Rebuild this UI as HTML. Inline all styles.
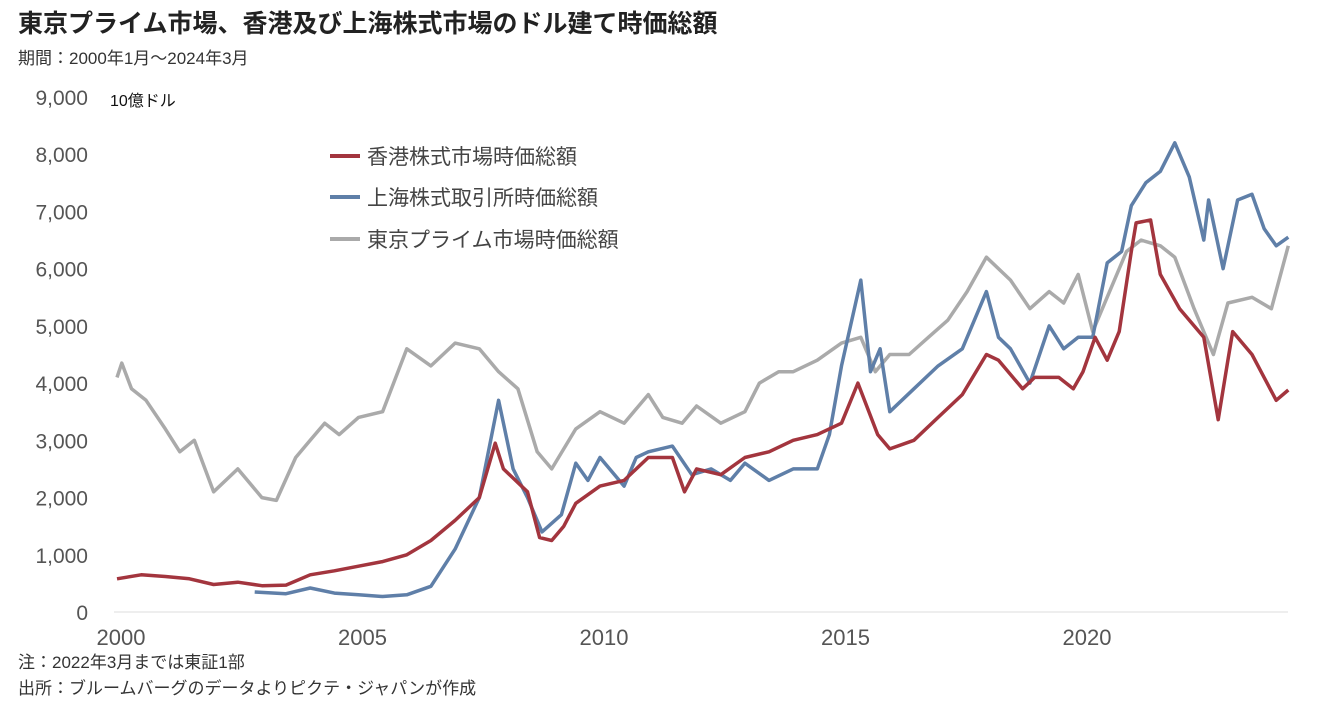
<!DOCTYPE html>
<html><head><meta charset="utf-8"><style>
body{margin:0;width:1318px;height:703px;background:#fff;overflow:hidden;font-family:"Liberation Sans","Noto Sans CJK JP",sans-serif}
</style></head><body>
<svg width="1318" height="703" style="font-family:'Liberation Sans','Noto Sans CJK JP',sans-serif">
<text x="18" y="32" font-size="25" font-weight="bold" fill="#222">東京プライム市場、香港及び上海株式市場のドル建て時価総額</text>
<text x="18" y="64" font-size="17" fill="#333">期間：2000年1月～2024年3月</text>
<text x="110" y="106" font-size="16" fill="#111">10億ドル</text>
<line x1="114" y1="612" x2="1288" y2="612" stroke="#ddd" stroke-width="1"/>
<g id="yt"></g><g id="xt"></g><g id="lines"></g>
<g>
<line x1="330" y1="156" x2="360" y2="156" stroke="#a3353e" stroke-width="4"/>
<text x="367" y="164" font-size="21" fill="#444">香港株式市場時価総額</text>
<line x1="330" y1="197" x2="360" y2="197" stroke="#5f7fa8" stroke-width="4"/>
<text x="367" y="205" font-size="21" fill="#444">上海株式取引所時価総額</text>
<line x1="330" y1="239" x2="360" y2="239" stroke="#aaa" stroke-width="4"/>
<text x="367" y="247" font-size="21" fill="#444">東京プライム市場時価総額</text>
</g>
<text x="18" y="668" font-size="17" fill="#333">注：2022年3月までは東証1部</text>
<text x="18" y="694" font-size="17" fill="#333">出所：ブルームバーグのデータよりピクテ・ジャパンが作成</text>
</svg>
<script>
const yTicks=[0,1000,2000,3000,4000,5000,6000,7000,8000,9000];
const xTicks=[2000,2005,2010,2015,2020];
const hkT=[2000,2000.5,2001,2001.5,2002,2002.5,2003,2003.5,2004,2004.5,2005,2005.5,2006,2006.5,2007,2007.5,2007.83,2008,2008.25,2008.5,2008.75,2009,2009.25,2009.5,2010,2010.5,2011,2011.5,2011.75,2012,2012.5,2013,2013.5,2014,2014.5,2015,2015.34,2015.75,2016,2016.5,2017,2017.5,2018,2018.25,2018.75,2019,2019.5,2019.8,2020,2020.25,2020.5,2020.75,2021,2021.1,2021.4,2021.6,2022,2022.5,2022.8,2023,2023.1,2023.5,2023.75,2024,2024.25];
const hkV=[580,650,620,580,480,520,460,470,650,720,800,880,1000,1250,1600,2000,2950,2500,2300,2100,1300,1250,1500,1900,2200,2300,2700,2700,2100,2500,2400,2700,2800,3000,3100,3300,4000,3100,2850,3000,3400,3800,4500,4400,3900,4100,4100,3900,4200,4800,4400,4900,6300,6800,6850,5900,5300,4800,3360,4400,4900,4500,4100,3700,3880];
const shT=[2002.85,2003.5,2004,2004.5,2005,2005.5,2006,2006.5,2007,2007.5,2007.9,2008.2,2008.5,2008.8,2009.2,2009.5,2009.75,2010,2010.5,2010.75,2011,2011.5,2011.9,2012.3,2012.7,2013,2013.5,2014,2014.5,2014.75,2015,2015.4,2015.6,2015.8,2016,2016.5,2017,2017.5,2018,2018.25,2018.5,2018.9,2019.3,2019.6,2019.9,2020.2,2020.5,2020.8,2021,2021.3,2021.6,2021.9,2022.2,2022.5,2022.6,2022.9,2023.2,2023.5,2023.75,2024,2024.25];
const shV=[350,320,420,330,300,270,300,450,1100,2000,3700,2500,2000,1400,1700,2600,2300,2700,2200,2700,2800,2900,2400,2500,2300,2600,2300,2500,2500,3100,4300,5800,4200,4600,3500,3900,4300,4600,5600,4800,4600,4000,5000,4600,4800,4800,6100,6300,7100,7500,7700,8200,7600,6500,7200,6000,7200,7300,6700,6400,6550];
const tkT=[2000,2000.1,2000.3,2000.6,2001,2001.3,2001.6,2002,2002.5,2003,2003.3,2003.7,2004,2004.3,2004.6,2005,2005.5,2006,2006.5,2007,2007.5,2007.9,2008.3,2008.7,2009,2009.5,2010,2010.5,2011,2011.3,2011.7,2012,2012.5,2013,2013.3,2013.7,2014,2014.5,2015,2015.4,2015.7,2016,2016.4,2016.8,2017.2,2017.6,2018,2018.5,2018.9,2019.3,2019.6,2019.9,2020.2,2020.6,2020.9,2021.2,2021.6,2021.9,2022.3,2022.7,2023,2023.5,2023.9,2024.25];
const tkV=[4100,4350,3900,3700,3200,2800,3000,2100,2500,2000,1950,2700,3000,3300,3100,3400,3500,4600,4300,4700,4600,4200,3900,2800,2500,3200,3500,3300,3800,3400,3300,3600,3300,3500,4000,4200,4200,4400,4700,4800,4200,4500,4500,4800,5100,5600,6200,5800,5300,5600,5400,5900,4900,5700,6300,6500,6400,6200,5300,4500,5400,5500,5300,6400];
const NS='http://www.w3.org/2000/svg';
const X=t=>117+(t-2000)*48.3;
const Y=v=>612-v*(515/9000);
const yt=document.getElementById('yt');
yTicks.forEach(v=>{const e=document.createElementNS(NS,'text');
e.setAttribute('x',88);e.setAttribute('y',Y(v)+8);e.setAttribute('text-anchor','end');e.setAttribute('font-size','21');e.setAttribute('fill','#555');
e.textContent=v.toLocaleString('en-US');


yt.appendChild(e);});
const xt=document.getElementById('xt');
xTicks.forEach(v=>{const e=document.createElementNS(NS,'text');
e.setAttribute('x',X(v)+4);e.setAttribute('y',645);e.setAttribute('text-anchor','middle');e.setAttribute('font-size','22');e.setAttribute('fill','#555');
e.textContent=v;


xt.appendChild(e);});
const lg=document.getElementById('lines');
function draw(T,V,c,n){const p=document.createElementNS(NS,'path');
p.setAttribute('d',T.map((t,i)=>(i?'L':'M')+X(t).toFixed(1)+','+Y(V[i]).toFixed(1)).join(''));
p.setAttribute('fill','none');p.setAttribute('stroke',c);p.setAttribute('stroke-width','3.5');p.setAttribute('stroke-linejoin','round');


lg.appendChild(p);}
draw(tkT,tkV,'#aaa','tokyo-line');
draw(shT,shV,'#5f7fa8','shanghai-line');
draw(hkT,hkV,'#a3353e','hongkong-line');
</script>
</body></html>
